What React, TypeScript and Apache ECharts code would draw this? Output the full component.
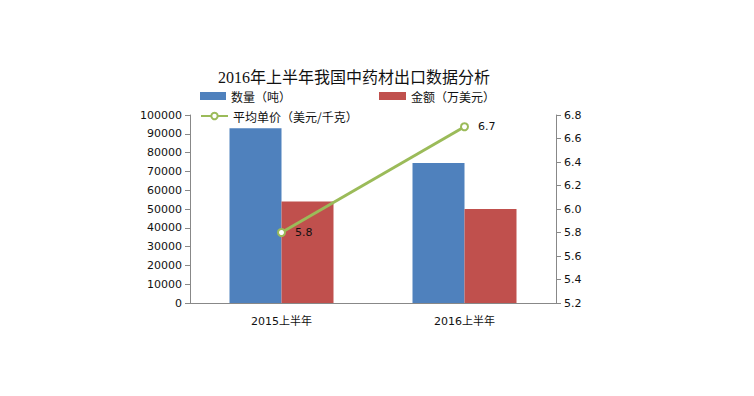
import React, { useEffect, useRef } from "react";
import * as echarts from "echarts";

const categories = ["2015上半年", "2016上半年"];
const quantity = [93000, 74500];
const amount = [54000, 50000];
const avgPrice = [5.8, 6.7];
const seriesNames = ["数量（吨）", "金额（万美元）", "平均单价（美元/千克）"];
const titleText = "2016年上半年我国中药材出口数据分析";

const font = "'DejaVu Sans', 'Noto Sans CJK SC', sans-serif";
const cjkFont = "'Noto Sans CJK SC', sans-serif";

export default function App() {
  const ref = useRef<HTMLDivElement>(null);
  useEffect(() => {
    if (!ref.current) return;
    const chart = echarts.init(ref.current, null, { renderer: "svg" });
    const legendText = { fontFamily: cjkFont, fontSize: 12, color: "#111" };
    chart.setOption({
      animation: false,
      backgroundColor: "#ffffff",
      title: {
        text: titleText,
        left: 213,
        top: 64,
        textStyle: {
          fontFamily: "'Liberation Serif', 'Noto Sans CJK SC', serif",
          fontSize: 16,
          fontWeight: "normal",
          color: "#111",
        },
      },
      legend: [
        {
          data: [{ name: seriesNames[0], icon: "rect" }],
          left: 200,
          top: 90,
          padding: 0,
          itemWidth: 26,
          itemHeight: 8,
          textStyle: legendText,
        },
        {
          data: [{ name: seriesNames[1], icon: "rect" }],
          left: 379,
          top: 90,
          padding: 0,
          itemWidth: 27,
          itemHeight: 8,
          textStyle: legendText,
        },
        {
          data: [seriesNames[2]],
          left: 200,
          top: 110,
          padding: 0,
          itemWidth: 27,
          itemHeight: 8,
          textStyle: legendText,
        },
      ],
      grid: { left: 190, right: 198, top: 115, bottom: 93 },
      xAxis: {
        type: "category",
        data: categories,
        axisLine: { lineStyle: { color: "#888" } },
        axisTick: { show: false },
        axisLabel: { fontFamily: font, fontSize: 11, color: "#111", margin: 13 },
      },
      yAxis: [
        {
          type: "value",
          min: 0,
          max: 100000,
          interval: 10000,
          splitLine: { show: false },
          axisLine: { show: true, lineStyle: { color: "#888" } },
          axisTick: { show: true, length: 5, lineStyle: { color: "#888" } },
          axisLabel: {
            fontFamily: font,
            fontSize: 11,
            color: "#111",
            margin: 8,
            formatter: (v: number) => String(v),
          },
        },
        {
          type: "value",
          min: 5.2,
          max: 6.8,
          interval: 0.2,
          splitLine: { show: false },
          axisLine: { show: true, lineStyle: { color: "#888" } },
          axisTick: { show: true, length: 5, lineStyle: { color: "#888" } },
          axisLabel: {
            fontFamily: font,
            fontSize: 11,
            color: "#111",
            margin: 8,
            formatter: (v: number) => v.toFixed(1),
          },
        },
      ],
      series: [
        {
          name: seriesNames[0],
          type: "bar",
          data: quantity,
          barWidth: 52,
          barGap: "0%",
          itemStyle: { color: "#4F81BD" },
        },
        {
          name: seriesNames[1],
          type: "bar",
          data: amount,
          barWidth: 52,
          barGap: "0%",
          itemStyle: { color: "#C0504D" },
        },
        {
          name: seriesNames[2],
          type: "line",
          yAxisIndex: 1,
          data: avgPrice,
          symbol: "emptyCircle",
          symbolSize: 7,
          lineStyle: { color: "#9BBB59", width: 3 },
          itemStyle: { color: "#9BBB59", borderWidth: 1.5 },
          label: {
            show: true,
            position: "right",
            distance: 9,
            fontFamily: font,
            fontSize: 11,
            color: "#111",
            formatter: (p: any) => Number(p.value).toFixed(1),
          },
        },
      ],
    });
    return () => chart.dispose();
  }, []);
  return (
    <div
      ref={ref}
      style={{ position: "fixed", left: 0, top: 0, width: 754, height: 396 }}
    />
  );
}
